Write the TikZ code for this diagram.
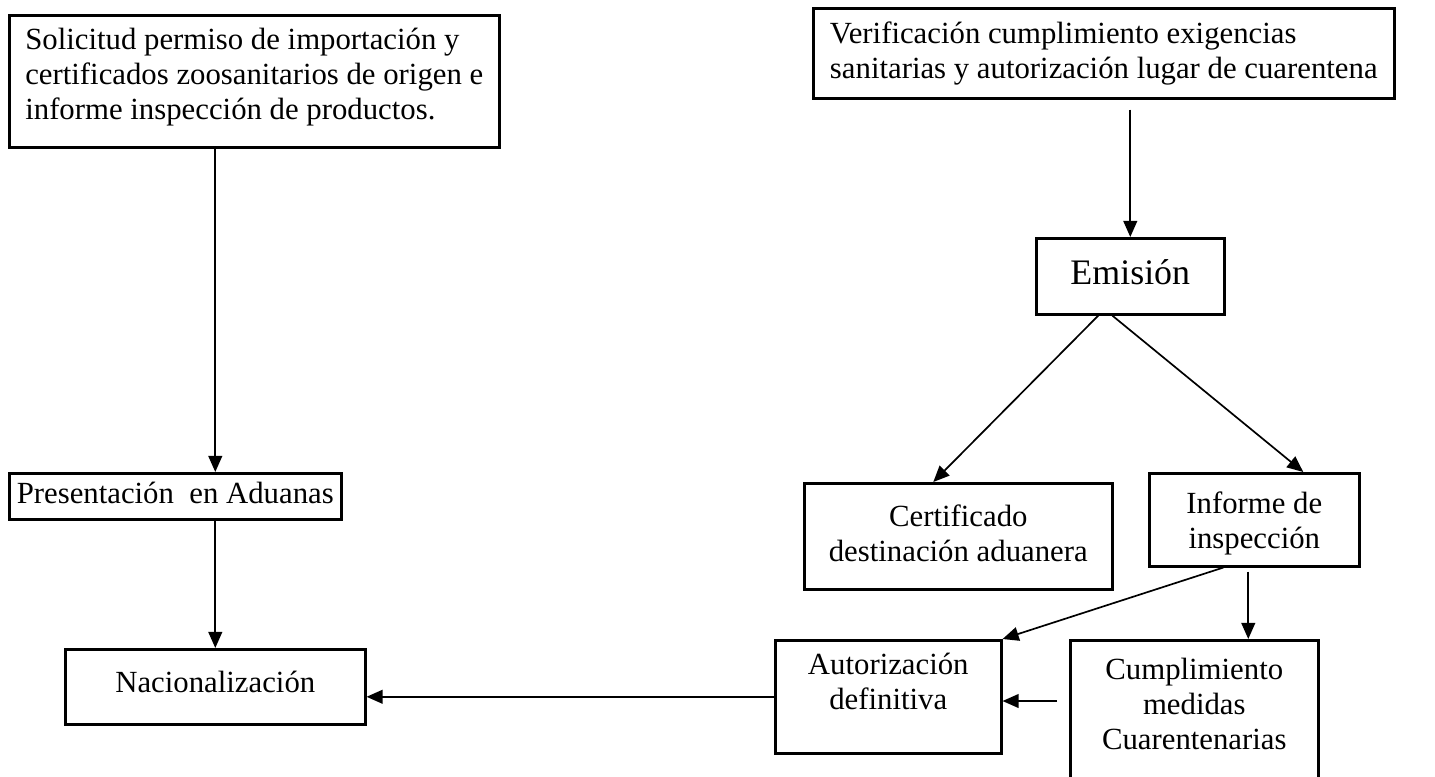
\documentclass[tikz,border=0pt]{standalone}
\usepackage{fontspec}
\setmainfont{Liberation Serif}
\usetikzlibrary{arrows.meta}

\begin{document}
\begin{tikzpicture}[x=0.39pt,y=-0.39pt,
    caja/.style={draw=black,line width=1pt,anchor=north west,inner sep=0pt,align=center,
        font=\fontsize{12pt}{13.65pt}\selectfont},
    flecha/.style={-{Triangle[length=6.3pt,width=5.4pt]},line width=0.66pt}]

    \useasboundingbox (0,0) rectangle (1435,776);
    \fill[white] (0,0) rectangle (1435,776);
    \clip (0,0) rectangle (1435,776);

    \node[caja,align=left,minimum width=191.1pt,text height=40.55pt,text depth=10.93pt] (sol) at (8,14)
        {Solicitud permiso de importación y\\certificados zoosanitarios de origen e\\informe inspección de productos.};
    \node[caja,align=left,minimum width=226.59pt,text height=27.3pt,text depth=7.8pt] (ver) at (812,7)
        {Verificación cumplimiento exigencias\\sanitarias y autorización lugar de cuarentena};
    \node[caja,font=\fontsize{14pt}{16pt}\selectfont,minimum width=73.32pt,text height=17.94pt,text depth=11.7pt] (emi) at (1035,237) {Emisión};
    \node[caja,minimum width=120.12pt,text height=30.42pt,text depth=10.92pt] (cert) at (803,482) {Certificado\\destinación aduanera};
    \node[caja,minimum width=81.9pt,text height=29.25pt,text depth=7.02pt] (inf) at (1148,472) {Informe de\\inspección};
    \node[caja,minimum width=129.48pt,text height=11.7pt,text depth=6.24pt] (pres) at (8,472) {Presentación~ en Aduanas};
    \node[caja,minimum width=117pt,text height=16.77pt,text depth=12.48pt] (nac) at (64,648) {Nacionalización};
    \node[caja,minimum width=88.14pt,text height=26.91pt,text depth=17.16pt] (aut) at (774,639) {Autorización\\definitiva};
    \node[caja,minimum width=96.72pt,text height=42.51pt,text depth=20.28pt] (cum) at (1069,639) {Cumplimiento\\medidas\\Cuarentenarias};

    \coordinate (infbaja) at ([xshift=-2.34pt]inf.south);
    \coordinate (cumsal) at (1057,701);

    \path[flecha] (sol.south -| nac.north) edge (pres.north -| nac.north);
    \path[flecha] (pres.south -| nac.north) edge (nac.north);
    \path[flecha,shorten <=3.9pt] (ver.south -| emi.north) edge (emi.north);
    \path[flecha] ([xshift=-12.48pt]emi.south) edge ([xshift=-9.75pt]cert.north);
    \path[flecha] ([xshift=-7.02pt]emi.south) edge ([xshift=19.11pt]inf.north);
    \path[flecha] ([xshift=-12.09pt]inf.south) edge (aut.north east);
    \path[flecha,shorten <=1.56pt] (infbaja) edge (infbaja |- cum.north);
    \path[flecha] (cumsal) edge (cumsal -| aut.east);
    \path[flecha] (aut.west) edge (aut.west -| nac.east);
\end{tikzpicture}
\end{document}
